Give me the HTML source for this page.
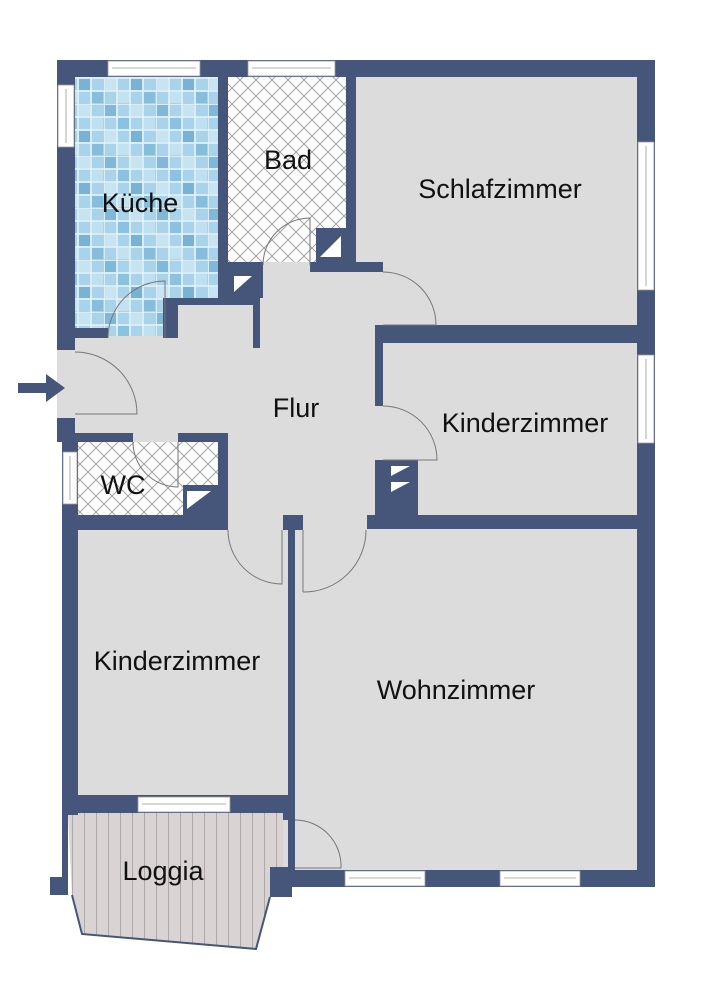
<!DOCTYPE html>
<html><head><meta charset="utf-8"><style>
html,body{margin:0;padding:0;background:#fff;}
svg{display:block;}
text{font-family:"Liberation Sans",sans-serif;font-size:27px;fill:#111;}
</style></head><body>
<svg width="707" height="1000" viewBox="0 0 707 1000" xmlns="http://www.w3.org/2000/svg">
<defs>
<pattern id="tile" width="52" height="52" patternUnits="userSpaceOnUse">
<rect width="52" height="52" fill="#a9d3ea"/>
<g stroke="#e8f4fb" stroke-width="1.5" fill="none">
<path d="M0 0H52M0 13H52M0 26H52M0 39H52M0 0V52M13 0V52M26 0V52M39 0V52"/></g>
<rect x="1" y="1" width="11" height="11" fill="#7fb8d8"/>
<rect x="27" y="1" width="11" height="11" fill="#c6e3f2"/>
<rect x="14" y="14" width="11" height="11" fill="#8cc2df"/>
<rect x="40" y="14" width="11" height="11" fill="#bfe0f0"/>
<rect x="1" y="27" width="11" height="11" fill="#c8e4f2"/>
<rect x="27" y="27" width="11" height="11" fill="#78b2d4"/>
<rect x="14" y="40" width="11" height="11" fill="#c2e1f1"/>
<rect x="40" y="40" width="11" height="11" fill="#86bddb"/>
</pattern>
<pattern id="hatch" width="16" height="16" patternUnits="userSpaceOnUse">
<rect width="16" height="16" fill="#fbfbfb"/>
<path d="M0 0L16 16M16 0L0 16" stroke="#9a9a9a" stroke-width="0.9"/>
</pattern>
<pattern id="plank" width="12" height="20" patternUnits="userSpaceOnUse">
<rect width="12" height="20" fill="#d9d3d3"/>
<path d="M0.5 0V20" stroke="#a9a2a2" stroke-width="0.9"/>
</pattern>
</defs>

<!-- floor base -->
<rect x="57" y="60" width="598" height="373" fill="#dcdcdc"/>
<rect x="62" y="433" width="593" height="380" fill="#dcdcdc"/>
<rect x="283" y="800" width="372" height="87" fill="#dcdcdc"/>

<!-- Küche -->
<rect x="75" y="77" width="143" height="221" fill="url(#tile)"/>
<rect x="75" y="298" width="90" height="38" fill="url(#tile)"/>
<!-- Bad -->
<rect x="228" y="77" width="118" height="185" fill="url(#hatch)"/>
<!-- WC -->
<rect x="78" y="442" width="140" height="73" fill="url(#hatch)"/>
<!-- Loggia -->
<polygon points="68,813 283,813 283,870 270,897 256,949 82,934 72,895" fill="url(#plank)"/>
<polyline points="72,895 82,934 256,949 270,897" fill="none" stroke="#45567a" stroke-width="2"/>

<g fill="#45567a">
<rect x="57" y="60" width="598" height="17"/>
<rect x="57" y="60" width="18" height="290"/>
<rect x="57" y="418" width="18" height="20"/>
<rect x="62" y="433" width="16" height="382"/>
<rect x="50" y="877" width="18" height="18"/>
<rect x="62" y="795" width="6" height="100"/>
<rect x="637" y="60" width="18" height="827"/>
<rect x="283" y="870" width="372" height="17"/>
<rect x="270" y="867" width="22" height="30"/>
<rect x="283" y="795" width="12" height="25"/>
<rect x="218" y="77" width="10" height="221"/>
<rect x="346" y="77" width="10" height="195"/>
<rect x="218" y="262" width="45" height="36"/>
<rect x="310" y="262" width="73" height="10"/>
<rect x="316" y="228" width="30" height="34"/>
<rect x="57" y="328" width="51" height="10"/>
<rect x="163" y="298" width="15" height="40"/>
<rect x="163" y="298" width="90" height="7"/>
<rect x="253" y="262" width="7" height="86"/>
<rect x="375" y="262" width="8" height="10"/>
<rect x="375" y="325" width="280" height="18"/>
<rect x="375" y="325" width="8" height="81"/>
<rect x="375" y="460" width="43" height="60"/>
<rect x="367" y="515" width="288" height="14"/>
<rect x="57" y="433" width="76" height="9"/>
<rect x="178" y="433" width="50" height="9"/>
<rect x="218" y="433" width="10" height="97"/>
<rect x="183" y="485" width="35" height="30"/>
<rect x="62" y="515" width="166" height="15"/>
<rect x="283" y="515" width="20" height="15"/>
<rect x="288" y="515" width="7" height="365"/>
<rect x="62" y="795" width="233" height="18"/>
</g>

<g fill="#fff" stroke="#999" stroke-width="0.8">
<rect x="108" y="61" width="92" height="15"/><line x1="112" y1="68" x2="196" y2="68"/>
<rect x="248" y="61" width="87" height="15"/><line x1="252" y1="68" x2="331" y2="68"/>
<rect x="58" y="85" width="16" height="62"/><line x1="66" y1="89" x2="66" y2="143"/>
<rect x="638" y="142" width="16" height="148"/><line x1="646" y1="146" x2="646" y2="286"/>
<rect x="638" y="355" width="16" height="88"/><line x1="646" y1="359" x2="646" y2="439"/>
<rect x="63" y="452" width="14" height="52"/><line x1="70" y1="456" x2="70" y2="500"/>
<rect x="138" y="797" width="92" height="15"/><line x1="142" y1="804" x2="226" y2="804"/>
<rect x="345" y="871" width="80" height="15"/><line x1="349" y1="878" x2="421" y2="878"/>
<rect x="500" y="871" width="80" height="15"/><line x1="504" y1="878" x2="576" y2="878"/>
</g>

<g fill="#fff">
<polygon points="320,257 341,236 341,257"/>
<polygon points="234,292 252,276 234,276"/>
<polygon points="187,509 211,491 187,491"/>
<polygon points="391,476 410,466 391,466"/>
<polygon points="391,492 410,482 391,482"/>
</g>

<g fill="none" stroke="#777" stroke-width="1">
<path d="M108 338 A 57 57 0 0 1 165 281 V338"/>
<path d="M75 352 A 62 62 0 0 1 137 414 H75"/>
<path d="M263 265 A 47 47 0 0 1 310 218 V265"/>
<path d="M383 272 A 53 53 0 0 1 436 325 H383"/>
<path d="M383 406 A 54 54 0 0 1 437 460 H383"/>
<path d="M133 442 A 45 45 0 0 0 178 487 V442"/>
<path d="M228 530 A 54 54 0 0 0 282 584 V530"/>
<path d="M303 592 A 62 62 0 0 0 366 530"/>
<line x1="303" y1="530" x2="303" y2="592"/>
<path d="M295 820 A 46 46 0 0 1 341 868 H295"/>
</g>

<polygon points="18,383 46,383 46,374 65,388 46,402 46,393 18,393" fill="#45567a"/>

<text x="140" y="212" text-anchor="middle">Küche</text>
<text x="288" y="169" text-anchor="middle">Bad</text>
<text x="500" y="198" text-anchor="middle">Schlafzimmer</text>
<text x="296" y="417" text-anchor="middle">Flur</text>
<text x="525" y="432" text-anchor="middle">Kinderzimmer</text>
<text x="123" y="494" text-anchor="middle">WC</text>
<text x="177" y="670" text-anchor="middle">Kinderzimmer</text>
<text x="456" y="699" text-anchor="middle">Wohnzimmer</text>
<text x="163" y="880" text-anchor="middle">Loggia</text>
</svg>
</body></html>
